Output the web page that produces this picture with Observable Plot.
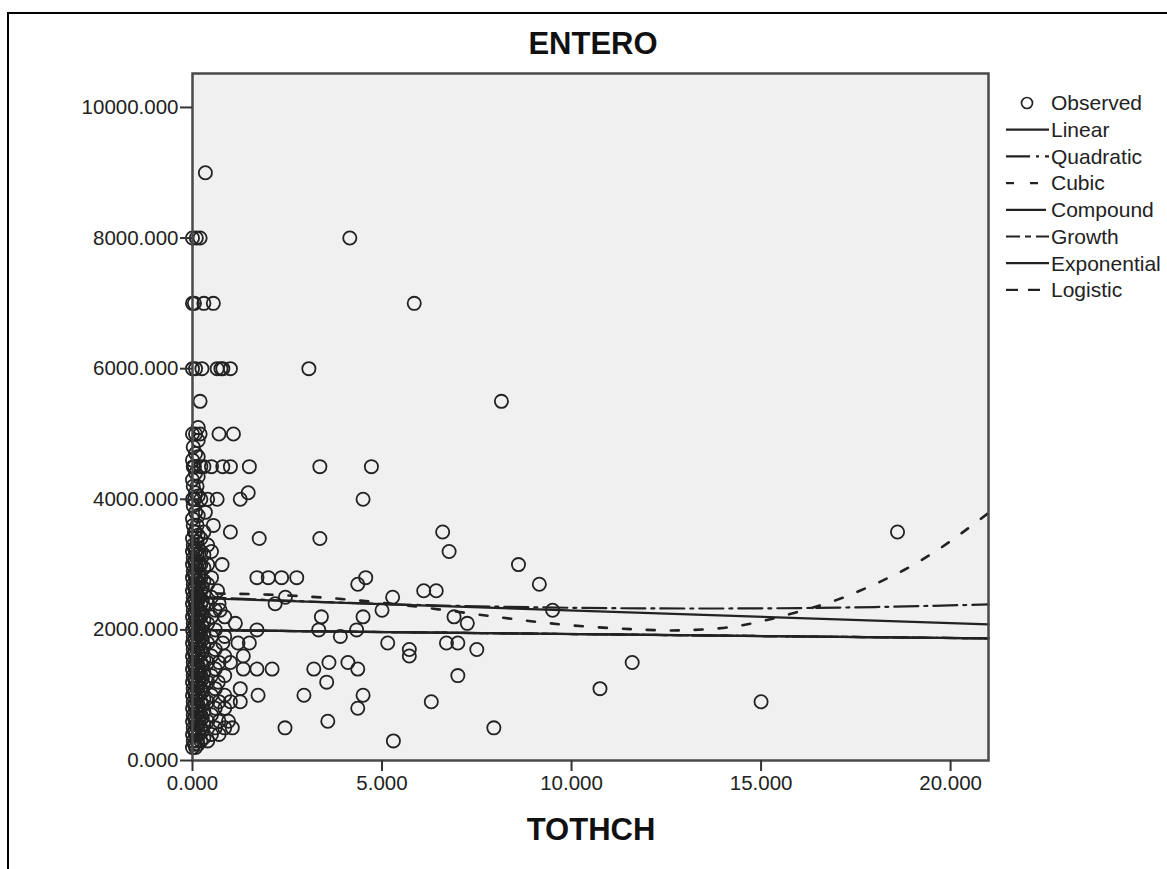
<!DOCTYPE html>
<html>
<head>
<meta charset="utf-8">
<script src="https://cdn.jsdelivr.net/npm/d3@7"></script>
<script src="https://cdn.jsdelivr.net/npm/@observablehq/plot@0.6"></script>
<style>
  html, body { margin: 0; padding: 0; background: #fff; }
  body { width: 1167px; height: 869px; position: relative; overflow: hidden; font-family: "Liberation Sans", Arial, sans-serif; }
  #chart { position: absolute; left: 0; top: 0; }
  #border { position: absolute; left: 7px; top: 12px; width: 1170px; height: 870px; border-left: 2px solid #000; border-top: 2px solid #000; box-sizing: border-box; }
  .title { position: absolute; width: 400px; text-align: center; font-weight: bold; font-size: 31px; color: #111; }
</style>
</head>
<body>
<div id="border"></div>
<div id="chart"></div>
<div class="title" style="left:393px; top:26px;">ENTERO</div>
<div class="title" style="left:391px; top:812px;">TOTHCH</div>
<script>
// ---- data ----
const xTicks = [0, 5, 10, 15, 20];
const yTicks = [0, 2000, 4000, 6000, 8000, 10000];

// observed points [TOTHCH, ENTERO]
const observed = [
  // dense column near zero
  [0.0,200],[0.0,400],[0.0,600],[0.0,800],[0.0,1000],[0.0,1200],[0.0,1400],[0.0,1600],[0.0,1800],[0.0,2000],[0.0,2200],[0.0,2400],[0.0,2600],[0.0,2800],[0.0,3000],[0.0,3200],[0.0,3400],[0.0,3700],[0.0,4000],[0.0,4300],[0.0,4600],[0.0,5000],[0.0,6000],[0.0,7000],[0.0,8000],
  [0.02,300],[0.02,500],[0.02,700],[0.02,900],[0.02,1100],[0.02,1300],[0.02,1500],[0.02,1700],[0.02,1900],[0.02,2100],[0.02,2300],[0.02,2500],[0.02,2700],[0.02,2900],[0.02,3100],[0.02,3300],[0.02,3600],[0.02,3900],[0.02,4200],[0.02,4500],[0.02,4800],
  [0.05,250],[0.05,450],[0.05,650],[0.05,850],[0.05,1050],[0.05,1250],[0.05,1450],[0.05,1650],[0.05,1850],[0.05,2050],[0.05,2250],[0.05,2450],[0.05,2650],[0.05,2850],[0.05,3050],[0.05,3250],[0.05,3500],[0.05,4000],[0.05,4500],
  [0.08,200],[0.08,400],[0.08,600],[0.08,800],[0.08,1000],[0.08,1200],[0.08,1400],[0.08,1600],[0.08,1800],[0.08,2000],[0.08,2200],[0.08,2400],[0.08,2600],[0.08,2800],[0.08,3000],[0.08,3200],[0.08,3500],[0.08,3800],[0.08,4100],[0.08,4400],[0.08,4700],[0.08,5000],[0.08,6000],[0.05,7000],[0.1,8000],
  [0.12,300],[0.12,550],[0.12,750],[0.12,950],[0.12,1150],[0.12,1350],[0.12,1550],[0.12,1750],[0.12,1950],[0.12,2150],[0.12,2350],[0.12,2550],[0.12,2750],[0.12,2950],[0.12,3150],[0.12,3350],[0.12,3600],[0.12,4200],
  [0.15,250],[0.15,450],[0.15,650],[0.15,850],[0.15,1050],[0.15,1250],[0.15,1450],[0.15,1650],[0.15,1850],[0.15,2050],[0.15,2250],[0.15,2450],[0.15,2650],[0.15,2850],[0.15,3050],[0.15,3250],[0.15,3450],[0.15,3750],[0.15,4050],[0.15,4350],[0.15,4650],[0.15,4900],[0.15,5100],
  [0.18,400],[0.18,600],[0.18,800],[0.18,1000],[0.18,1200],[0.18,1400],[0.18,1600],[0.18,1800],[0.18,2000],[0.18,2300],[0.18,2500],[0.18,2700],[0.18,3000],
  [0.22,300],[0.22,500],[0.22,700],[0.22,900],[0.22,1100],[0.22,1300],[0.22,1500],[0.22,1700],[0.22,1900],[0.22,2000],[0.22,2200],[0.22,2400],[0.22,2600],[0.22,2800],[0.22,3000],[0.22,3200],[0.22,3400],[0.22,4000],[0.22,4500],[0.2,5000],[0.2,5500],[0.2,8000],[0.25,6000],
  [0.26,450],[0.26,650],[0.26,850],[0.26,1050],[0.26,1250],[0.26,1450],[0.26,1650],[0.26,1850],[0.26,2050],[0.26,2250],[0.26,2450],[0.26,2650],
  [0.3,350],[0.3,550],[0.3,750],[0.3,950],[0.3,1150],[0.3,1350],[0.3,1550],[0.3,1750],[0.3,1950],[0.3,2150],[0.3,2350],[0.3,2550],[0.3,2750],[0.3,2950],[0.3,3150],[0.3,3500],[0.3,4500],[0.3,7000],[0.34,9000],[0.34,3800],
  [0.4,300],[0.4,600],[0.4,900],[0.4,1200],[0.4,1500],[0.4,1800],[0.4,2100],[0.4,2400],[0.4,2700],[0.4,3000],[0.4,3300],[0.4,4000],
  [0.5,400],[0.5,700],[0.5,1000],[0.5,1300],[0.5,1600],[0.5,1900],[0.5,2200],[0.5,2500],[0.5,2800],[0.5,3200],[0.5,4500],[0.55,3600],[0.55,7000],
  [0.6,500],[0.6,800],[0.6,1100],[0.6,1400],[0.6,1700],[0.6,2000],[0.6,2300],[0.66,2600],[0.65,4000],[0.65,6000],
  [0.7,400],[0.7,600],[0.7,900],[0.68,1200],[0.7,1500],[0.73,2300],[0.7,2400],[0.7,5000],[0.75,6000],[0.78,3000],[0.8,6000],[0.8,4500],[0.8,1800],
  [0.85,500],[0.85,800],[0.85,1000],[0.85,1300],[0.85,1600],[0.85,1900],[0.85,2200],
  [0.95,600],[1.0,900],[1.0,1500],[1.0,3500],[1.0,4500],[1.0,6000],[1.05,500],[1.08,5000],[1.13,2100],[1.2,1800],
  [1.26,900],[1.26,1100],[1.26,4000],[1.34,1400],[1.34,1600],[1.47,4100],[1.5,1800],[1.5,4500],
  // spread-out points
  [1.7,2800],[1.7,2000],[1.7,1400],[1.73,1000],[1.76,3400],[2.0,2800],[2.1,1400],[2.18,2400],[2.35,2800],[2.45,2500],[2.44,500],
  [2.75,2800],[2.94,1000],[3.07,6000],[3.2,1400],[3.33,2000],[3.36,3400],[3.36,4500],[3.4,2200],[3.54,1200],[3.57,600],[3.6,1500],
  [3.9,1900],[4.1,1500],[4.15,8000],[4.33,2000],[4.36,2700],[4.36,1400],[4.36,800],[4.5,4000],[4.5,2200],[4.5,1000],[4.57,2800],[4.72,4500],
  [5.0,2300],[5.15,1800],[5.28,2500],[5.3,300],[5.72,1700],[5.72,1600],[5.85,7000],[6.1,2600],[6.3,900],[6.43,2600],[6.6,3500],
  [6.7,1800],[6.77,3200],[6.9,2200],[7.0,1800],[7.0,1300],[7.25,2100],[7.5,1700],[7.95,500],[8.15,5500],[8.6,3000],[9.15,2700],
  [9.5,2300],[10.75,1100],[11.6,1500],[15.0,900],[18.6,3500]
];

// fitted curves [TOTHCH, ENTERO]
const linearFit = [[0,2490],[21,2085]];
const quadraticFit = [[0,2510],[3,2436],[6,2381],[9,2346],[12,2329],[15,2330],[18,2350],[21,2390]];
const cubicFit = [[0,2560],[2,2540],[4,2470],[6,2350],[8,2200],[10,2070],[12,2000],[13,1995],[14,2030],[15,2130],[16,2280],[17,2460],[18,2700],[19,2990],[20,3360],[21,3790]];
const expFamilyFit = [[0,1998],[7,1955],[14,1912],[21,1870]];

const legendItems = ["Observed","Linear","Quadratic","Cubic","Compound","Growth","Exponential","Logistic"];
const dashes = {
  Linear: null,
  Quadratic: "24,6,3,6",
  Cubic: "8,16",
  Compound: "40,4,2,4",
  Growth: "14,5,6,5",
  Exponential: null,
  Logistic: "12,10"
};

const ink = "#222";
const lineW = 2.2;

const chart = Plot.plot({
  width: 1167,
  height: 869,
  marginLeft: 192,
  marginRight: 179,
  marginTop: 73,
  marginBottom: 109,
  style: { fontFamily: "Liberation Sans, Arial, sans-serif", fontSize: "20.5px", color: "#222", background: "transparent" },
  x: { domain: [0, 21] },
  y: { domain: [0, 10520] },
  marks: [
    Plot.frame({ fill: "#f0f0f0", stroke: null }),
    Plot.line(expFamilyFit, { x: d => d[0], y: d => d[1], stroke: ink, strokeWidth: lineW, strokeDasharray: dashes.Logistic }),
    Plot.line(expFamilyFit, { x: d => d[0], y: d => d[1], stroke: ink, strokeWidth: lineW, strokeDasharray: dashes.Growth }),
    Plot.line(expFamilyFit, { x: d => d[0], y: d => d[1], stroke: ink, strokeWidth: lineW, strokeDasharray: dashes.Compound }),
    Plot.line(expFamilyFit, { x: d => d[0], y: d => d[1], stroke: ink, strokeWidth: lineW }),
    Plot.line(linearFit, { x: d => d[0], y: d => d[1], stroke: ink, strokeWidth: lineW }),
    Plot.line(quadraticFit, { x: d => d[0], y: d => d[1], stroke: ink, strokeWidth: lineW, strokeDasharray: dashes.Quadratic, curve: "natural" }),
    Plot.line(cubicFit, { x: d => d[0], y: d => d[1], stroke: ink, strokeWidth: lineW + 0.4, strokeDasharray: dashes.Cubic, curve: "natural" }),
    Plot.dot(observed, { x: d => d[0], y: d => d[1], r: 6.6, stroke: ink, strokeWidth: 1.8, fill: "none" }),
    Plot.frame({ stroke: "#4a4a4a", strokeWidth: 2.5 }),
    Plot.axisY({ ticks: yTicks, tickFormat: d3.format(".3f"), tickSize: 12, tickPadding: 2, stroke: "#333", strokeWidth: 2, label: null }),
    Plot.axisX({ ticks: xTicks, tickFormat: d3.format(".3f"), tickSize: 11, tickPadding: 4, stroke: "#333", strokeWidth: 2, label: null })
  ]
});
document.getElementById("chart").appendChild(chart);

// legend (drawn in SVG beside the chart)
const svgNS = "http://www.w3.org/2000/svg";
const lg = document.createElementNS(svgNS, "svg");
lg.setAttribute("width", 1167);
lg.setAttribute("height", 869);
lg.style.position = "absolute"; lg.style.left = "0"; lg.style.top = "0";
legendItems.forEach((name, i) => {
  const y = 103 + i * 26.7;
  if (name === "Observed") {
    const c = document.createElementNS(svgNS, "circle");
    c.setAttribute("cx", 1027); c.setAttribute("cy", y); c.setAttribute("r", 5.5);
    c.setAttribute("fill", "none"); c.setAttribute("stroke", ink); c.setAttribute("stroke-width", 1.7);
    lg.appendChild(c);
  } else {
    const l = document.createElementNS(svgNS, "line");
    l.setAttribute("x1", 1006); l.setAttribute("x2", 1049); l.setAttribute("y1", y); l.setAttribute("y2", y);
    l.setAttribute("stroke", ink); l.setAttribute("stroke-width", lineW);
    if (dashes[name]) l.setAttribute("stroke-dasharray", dashes[name]);
    lg.appendChild(l);
  }
  const t = document.createElementNS(svgNS, "text");
  t.setAttribute("x", 1051); t.setAttribute("y", y); t.setAttribute("dy", "0.35em");
  t.setAttribute("font-size", "21px"); t.setAttribute("fill", "#222");
  t.setAttribute("font-family", "Liberation Sans, Arial, sans-serif");
  t.textContent = name;
  lg.appendChild(t);
});
document.body.appendChild(lg);
</script>
</body>
</html>
